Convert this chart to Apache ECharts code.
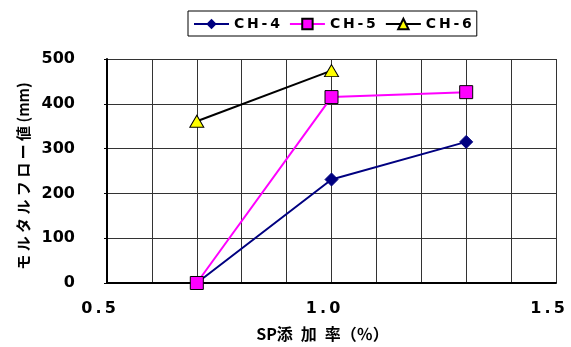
<!DOCTYPE html>
<html><head><meta charset="utf-8">
<script src="https://cdn.jsdelivr.net/npm/echarts@6/dist/echarts.min.js"></script>
<style>html,body{margin:0;padding:0;background:#fff}#c{width:571px;height:347px}</style>
</head><body><div id="c"></div>
<script>
const seriesNames = ['CH-4', 'CH-5', 'CH-6'];
const ch4 = [[0.7, 0], [1.0, 231], [1.3, 315]];
const ch5 = [[0.7, 0], [1.0, 415], [1.3, 426]];
const ch6 = [[0.7, 361], [1.0, 474]];
const xTickLabels = ['0.5', '1.0', '1.5'];
const yTicks = [0, 100, 200, 300, 400, 500];
const xName = 'SP添\u2002加\u2002率（％）';
const yName = 'モ ル タ ル フ ロ ー 値 (mm)';

const LATIN = '"DejaVu Sans", sans-serif';
const CJK = '"Noto Sans CJK JP", sans-serif';
const thin = s => s.split('').join('\u2009');
const chart = echarts.init(document.getElementById('c'));
chart.setOption({
  animation: false,
  backgroundColor: '#fff',
  legend: {
    top: 11, left: 188,
    padding: [6, 5, 5, 5], itemGap: 9, itemWidth: 35, itemHeight: 13,
    borderColor: '#000', borderWidth: 1, borderRadius: 0,
    data: seriesNames,
    textStyle: { fontFamily: LATIN, fontWeight: 'bold', fontSize: 14, color: '#000' },
    formatter: n => thin(n)
  },
  grid: { left: 107, right: 15, top: 59, bottom: 61, containLabel: false },
  xAxis: {
    type: 'value', min: 0.5, max: 1.5, interval: 0.1,
    name: xName, nameLocation: 'middle', nameGap: 43,
    nameTextStyle: { fontFamily: CJK, fontWeight: 'bold', fontSize: 16, color: '#000',
      padding: [0, 18, 0, 0] },
    axisLine: { lineStyle: { color: '#000', width: 2 } },
    axisTick: { show: false },
    splitLine: { show: true, lineStyle: { color: '#333', width: 1 } },
    axisLabel: {
      margin: 18, fontFamily: LATIN, fontWeight: 'bold', fontSize: 16, color: '#000',
      padding: [0, 17, 0, 0],
      formatter: v => {
        const s = v.toFixed(1);
        return xTickLabels.indexOf(s) >= 0 ? thin(s) : '';
      }
    }
  },
  yAxis: {
    type: 'value', min: 0, max: 500, interval: 100,
    name: yName, nameLocation: 'middle', nameGap: 76, nameRotate: 90,
    nameTextStyle: { fontFamily: CJK, fontWeight: 'bold', fontSize: 15, color: '#000',
      padding: [0, 10, 0, 0] },
    axisLine: { show: true, lineStyle: { color: '#000', width: 2 } },
    axisTick: { show: true, length: 3, lineStyle: { color: '#000', width: 1 } },
    splitLine: { show: true, lineStyle: { color: '#333', width: 1 } },
    axisLabel: {
      margin: 32, fontFamily: LATIN, fontWeight: 'bold', fontSize: 16, color: '#000',
      formatter: v => yTicks.indexOf(v) >= 0 ? String(v) : ''
    }
  },
  series: [
    { name: 'CH-4', type: 'line', data: ch4, symbol: 'diamond', symbolSize: 13,
      lineStyle: { color: '#000080', width: 2 },
      itemStyle: { color: '#000080', borderColor: '#000080' }, z: 2 },
    { name: 'CH-5', type: 'line', data: ch5, symbol: 'rect', symbolSize: 13,
      lineStyle: { color: '#FF00FF', width: 2 },
      itemStyle: { color: '#FF00FF', borderColor: '#000', borderWidth: 1 }, z: 3 },
    { name: 'CH-6', type: 'line', data: ch6, symbol: 'triangle', symbolSize: [14, 12],
      lineStyle: { color: '#000', width: 2 },
      itemStyle: { color: '#FFFF00', borderColor: '#000', borderWidth: 1 }, z: 4 }
  ]
});
</script>
</body></html>
